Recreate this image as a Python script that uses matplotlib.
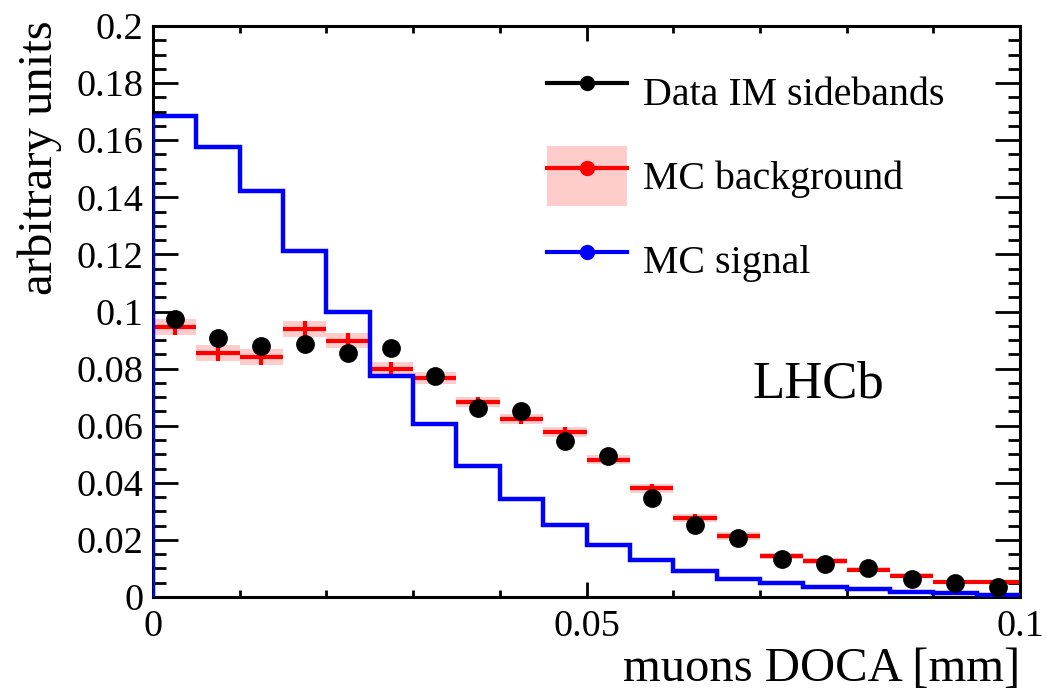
import numpy as np
import matplotlib.pyplot as plt
from matplotlib.lines import Line2D
from matplotlib.patches import Patch
from matplotlib.ticker import MultipleLocator

plt.rcParams['font.family'] = ['Liberation Serif', 'DejaVu Serif']
plt.rcParams['mathtext.fontset'] = 'stix'

# 20 bins of muon DOCA, 0 - 0.1 mm
bin_edges = np.linspace(0.0, 0.1, 21)

data_sidebands = [0.0974, 0.0906, 0.0880, 0.0886, 0.0855, 0.0872, 0.0775, 0.0661,
                  0.0653, 0.0548, 0.0494, 0.0346, 0.0253, 0.0208, 0.0133, 0.0115,
                  0.0101, 0.0063, 0.0048, 0.0036]
data_err = [0.0015, 0.0015, 0.0015, 0.0015, 0.0015, 0.0015, 0.0014, 0.0013,
            0.0013, 0.0012, 0.0011, 0.0010, 0.0009, 0.0008, 0.0006, 0.0006,
            0.0005, 0.0004, 0.0004, 0.0003]

mc_background = [0.0945, 0.0855, 0.0840, 0.0937, 0.0898, 0.0799, 0.0767, 0.0684,
                 0.0623, 0.0577, 0.0481, 0.0381, 0.0276, 0.0213, 0.0143, 0.0126,
                 0.0095, 0.0075, 0.0051, 0.0051]
mc_background_err = [0.0029, 0.0028, 0.0028, 0.0028, 0.0027, 0.0024, 0.0022, 0.0018,
                     0.0018, 0.0017, 0.0016, 0.0016, 0.0015, 0.0014, 0.0011, 0.0010,
                     0.0009, 0.0008, 0.0007, 0.0007]

mc_signal = [0.1685, 0.1575, 0.1423, 0.1213, 0.0997, 0.0775, 0.0606, 0.0458,
             0.0343, 0.0252, 0.0182, 0.0131, 0.0092, 0.0063, 0.0049, 0.0034,
             0.0028, 0.0019, 0.0014, 0.0008]

centres = 0.5 * (bin_edges[:-1] + bin_edges[1:])
widths = np.diff(bin_edges)
bkg = np.array(mc_background)
bkg_err = np.array(mc_background_err)

fig = plt.figure(figsize=(10.46, 6.96), dpi=100)
ax = fig.add_axes([153 / 1046, 1 - 597 / 696, 867 / 1046, 571 / 696])

# MC background: shaded uncertainty band + bin-width bars
pink = '#ffcccc'
red = '#ff0000'
ax.bar(centres, 2 * bkg_err, bottom=bkg - bkg_err, width=widths,
       color=pink, edgecolor='none', zorder=1)
ax.errorbar(centres, bkg, xerr=widths / 2, yerr=bkg_err, fmt='none',
            ecolor=red, elinewidth=3, capsize=0, zorder=2)

# MC signal histogram
ax.stairs(mc_signal, bin_edges, color='#0000ff', lw=3.2, zorder=3)

# data from the invariant-mass sidebands
ax.errorbar(centres, data_sidebands, yerr=data_err, fmt='o', color='black',
            ms=12.5, elinewidth=2, capsize=0, zorder=4)

ax.set_xlim(0, 0.1)
ax.set_ylim(0, 0.2)
ax.xaxis.set_major_locator(MultipleLocator(0.05))
ax.xaxis.set_minor_locator(MultipleLocator(0.01))
ax.yaxis.set_major_locator(MultipleLocator(0.02))
ax.yaxis.set_minor_locator(MultipleLocator(0.005))
ax.xaxis.set_major_formatter(plt.FuncFormatter(lambda v, p: f'{v:g}'))
ax.yaxis.set_major_formatter(plt.FuncFormatter(lambda v, p: f'{v:g}'))

ax.tick_params(which='both', direction='in', top=True, right=True,
               labelsize=27.5, width=2)
ax.tick_params(axis='y', which='major', length=18, pad=7)
ax.tick_params(axis='y', which='minor', length=9)
ax.tick_params(axis='x', which='major', length=11, pad=9)
ax.tick_params(axis='x', which='minor', length=5)
for s in ax.spines.values():
    s.set_linewidth(2.2)

ax.set_xlabel('muons DOCA [mm]', fontsize=35, loc='right')
ax.xaxis.set_label_coords(1.0, -0.088)
ax.set_ylabel('arbitrary units', fontsize=35, loc='top')
ax.yaxis.set_label_coords(-0.105, 1.01)

ax.text(0.692, 0.35, 'LHCb', transform=ax.transAxes, fontsize=38,
        ha='left', va='baseline')

handles = [
    Line2D([], [], color='black', lw=3, marker='o', ms=10),
    (Patch(facecolor=pink, edgecolor='none'),
     Line2D([], [], color=red, lw=3, marker='o', ms=10)),
    Line2D([], [], color='#0000ff', lw=3, marker='o', ms=10),
]
labels = ['Data IM sidebands', 'MC background', 'MC signal']
ax.legend(handles, labels, loc='upper left', bbox_to_anchor=(0.4544, 0.937),
          frameon=False, fontsize=28.7, handlelength=2.0, handleheight=1.95,
          handletextpad=0.4, labelspacing=0.6, borderpad=0, borderaxespad=0)

fig.savefig('out.png', dpi=100)
